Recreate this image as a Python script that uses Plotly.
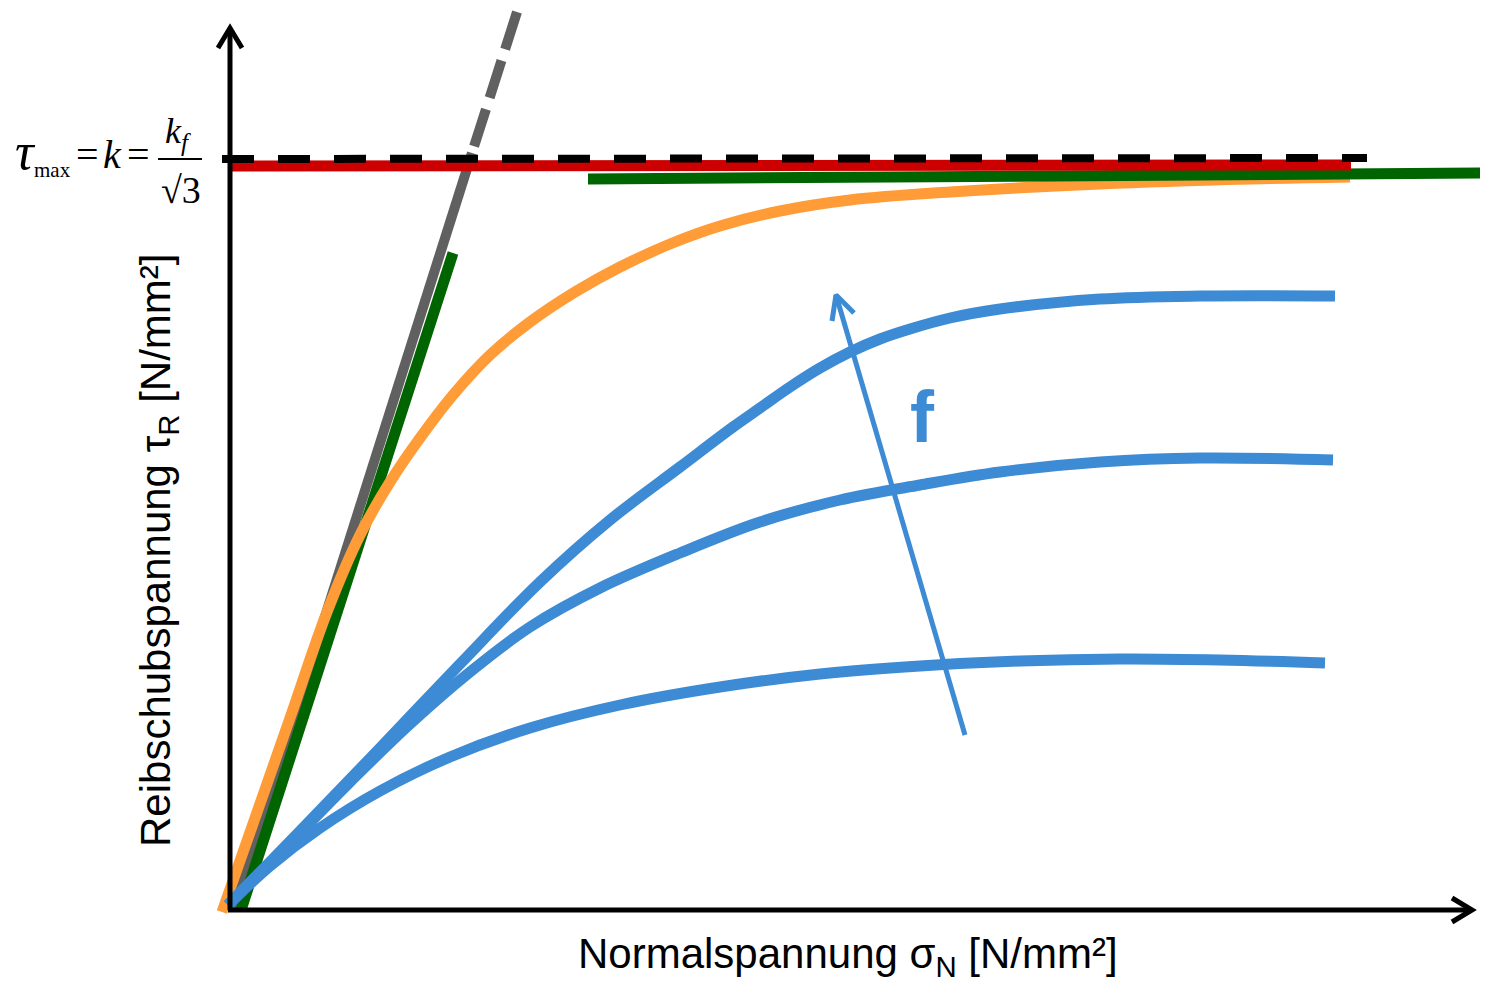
import plotly.graph_objects as go

# Data in chart units: x = sigma_N (origin at axis corner), y = tau_R
orange_x = [-6, 27, 62, 99, 132, 162, 192, 225, 262, 302, 347, 392, 442, 492, 552, 622, 722, 872, 1022, 1122]
orange_y = [-2, 92, 192, 298, 375, 428, 472, 515, 555, 588, 618, 643, 666, 684, 699, 710, 718, 726, 731, 733]

blue1_x = [0, 72, 152, 232, 312, 382, 452, 505, 532, 562, 592, 622, 652, 682, 722, 772, 872, 972, 1107]
blue1_y = [5, 79, 162, 246, 328, 390, 443, 483, 502, 523, 542, 558, 571, 581, 592, 601, 611, 614, 614]

blue2_x = [0, 62, 122, 182, 242, 302, 372, 452, 532, 612, 692, 772, 872, 972, 1105]
blue2_y = [5, 67, 128, 186, 238, 283, 322, 357, 388, 410, 425, 438, 448, 452, 450]

blue3_x = [0, 42, 92, 152, 222, 302, 392, 492, 592, 692, 792, 892, 992, 1097]
blue3_y = [5, 44, 82, 119, 153, 182, 205, 223, 236, 244, 249, 251, 250, 247]

gray_solid_x = [4, 244]
gray_solid_y = [0, 757]
gray_dash_x = [289, 243]
gray_dash_y = [898, 754]

green_steep_x = [13, 225]
green_steep_y = [0, 657]

green_flat_x = [360, 1262]
green_flat_y = [731, 737]

red_x = [4, 1123]
red_y = [744, 745]

black_dash_x = [-6, 1139]
black_dash_y = [751, 752]

f_arrow_x = [737, 608]
f_arrow_y = [175, 615]

x_axis_title = "Normalspannung σ<sub>N</sub> [N/mm²]"
y_axis_title = "Reibschubspannung τ<sub>R</sub> [N/mm²]"

BLUE = "#3D8BD4"
ORANGE = "#FF9C38"
GREEN = "#006400"
RED = "#CC0000"
GRAY = "#606060"

fig = go.Figure()

def add(x, y, color, width, dash="solid", shape="linear"):
    line = dict(color=color, width=width, dash=dash, shape=shape)
    if shape == "spline":
        line["smoothing"] = 1.0
    fig.add_trace(go.Scatter(x=x, y=y, mode="lines", hoverinfo="skip",
                             line=line, showlegend=False))

add(gray_solid_x, gray_solid_y, GRAY, 10)
add(gray_dash_x, gray_dash_y, GRAY, 10, dash="39px,12px")
add(green_steep_x, green_steep_y, GREEN, 11)
add(orange_x, orange_y, ORANGE, 11, shape="spline")
add(blue3_x, blue3_y, BLUE, 11, shape="spline")
add(blue2_x, blue2_y, BLUE, 11, shape="spline")
add(blue1_x, blue1_y, BLUE, 11, shape="spline")
add(green_flat_x, green_flat_y, GREEN, 11)
add(red_x, red_y, RED, 11)
add(black_dash_x, black_dash_y, "black", 8, dash="32px,24px")

# f arrow
add(f_arrow_x, f_arrow_y, BLUE, 5)
tipx, tipy = f_arrow_x[1], f_arrow_y[1]
add([tipx - 4, tipx, tipx + 18], [tipy - 26, tipy, tipy - 18], BLUE, 5)

# axes with arrows
add([2, 2], [0, 882], "black", 5)
add([-10, 2, 14], [862, 882, 862], "black", 5)
add([0, 1244], [0, 0], "black", 5)
add([1224, 1244, 1224], [12, 0, -12], "black", 5)

ann = []
ann.append(dict(x=694, y=493, text="<b>f</b>", font=dict(family="Liberation Sans", size=72, color=BLUE),
                showarrow=False, xanchor="center", yanchor="middle"))
ann.append(dict(x=620, y=-46, text=x_axis_title, font=dict(family="Liberation Sans", size=42, color="black"),
                showarrow=False, xanchor="center", yanchor="middle"))
ann.append(dict(x=-70, y=359, text=y_axis_title, textangle=-90,
                font=dict(family="Liberation Sans", size=42, color="black"),
                showarrow=False, xanchor="center", yanchor="middle"))
serif = "Liberation Serif"
ann.append(dict(x=-215, y=759, text="<i>τ</i>", font=dict(family=serif, size=52, color="black"),
                showarrow=False, xanchor="left", yanchor="middle"))
ann.append(dict(x=-196, y=740, text="max", font=dict(family=serif, size=21, color="black"),
                showarrow=False, xanchor="left", yanchor="middle"))
ann.append(dict(x=-141, y=756, text="=", font=dict(family=serif, size=40, color="black"),
                showarrow=False, xanchor="center", yanchor="middle"))
ann.append(dict(x=-116, y=756, text="<i>k</i>", font=dict(family=serif, size=40, color="black"),
                showarrow=False, xanchor="center", yanchor="middle"))
ann.append(dict(x=-90, y=756, text="=", font=dict(family=serif, size=40, color="black"),
                showarrow=False, xanchor="center", yanchor="middle"))
ann.append(dict(x=-50, y=777, text="<i>k<sub>f</sub></i>", font=dict(family=serif, size=36, color="black"),
                showarrow=False, xanchor="center", yanchor="middle"))
ann.append(dict(x=-47, y=720, text="√3", font=dict(family=serif, size=38, color="black"),
                showarrow=False, xanchor="center", yanchor="middle"))
fig.add_shape(type="line", x0=-70, x1=-26, y0=751, y1=751, line=dict(color="black", width=2))

fig.update_layout(
    width=1480, height=977,
    margin=dict(l=0, r=0, t=0, b=0),
    paper_bgcolor="white", plot_bgcolor="white",
    xaxis=dict(range=[-220, 1260], visible=False, fixedrange=True),
    yaxis=dict(range=[-75, 902], visible=False, fixedrange=True),
    annotations=ann,
)
fig.write_html("out.html")
